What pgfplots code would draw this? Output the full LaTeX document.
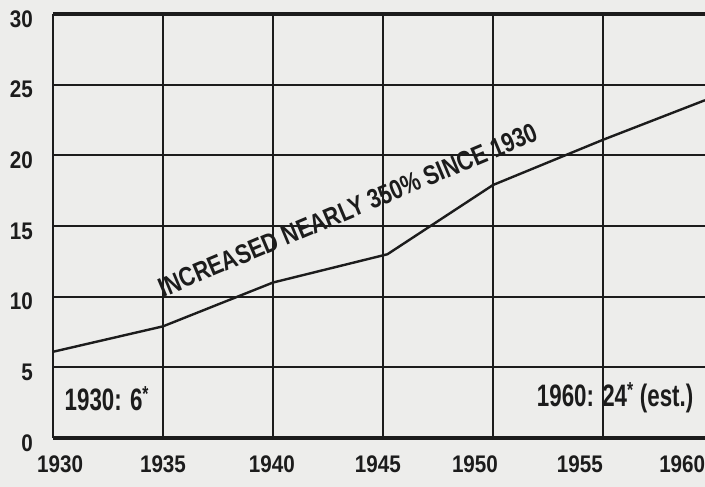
\documentclass[border=0pt]{standalone}
\usepackage{pgfplots}
\pgfplotsset{compat=1.18}
\usepackage{fontspec}
\setmainfont{Liberation Sans}
\newfontfamily\tickfont{Liberation Sans}[FakeStretch=0.86]
\newfontfamily\notefont{Liberation Sans}[FakeStretch=0.72]
\newfontfamily\diagfont{Liberation Sans}[FakeStretch=0.8]
\definecolor{ink}{RGB}{28,28,28}
\definecolor{bg}{RGB}{237,237,235}
\begin{document}
\begin{tikzpicture}
\fill[bg] (-53pt,-49pt) rectangle (652pt,438pt);
\begin{axis}[
  scale only axis, width=652pt, height=424pt,
  xmin=1930, xmax=1959.636, ymin=0, ymax=30,
  clip=false,
  axis line style={draw=none},
  xtick={1930,1935,...,1955}, xticklabels={},
  ytick={0,5,...,30}, yticklabels={0,5,10,15,20,25,30},
  grid=major, major grid style={line width=1.8pt, color=ink},
  tick style={draw=none},
  yticklabel style={font=\tickfont\bfseries\fontsize{24}{26}\selectfont, text=ink, anchor=east, inner sep=0pt, xshift=-20pt, yshift=-5pt},
  extra x ticks={1930.32,1935,1939.95,1944.77,1949.18,1953.95,1958.6},
  extra x tick labels={1930,1935,1940,1945,1950,1955,1960},
  extra x tick style={grid=none, tick style={draw=none}, xticklabel style={font=\tickfont\bfseries\fontsize{24}{26}\selectfont, text=ink, anchor=north, inner sep=0pt, yshift=-18pt}},
]
\draw[line width=4pt, ink] (rel axis cs:0,1) -- (rel axis cs:1,1);
\draw[line width=4pt, ink] (rel axis cs:0,0) -- (rel axis cs:1,0);
\draw[line width=2.2pt, ink] (rel axis cs:0,0) -- (rel axis cs:0,1);
\addplot[ink, line width=2.4pt] coordinates {(1930,6.1) (1935,7.9) (1940,11.0) (1945.2,13.0) (1950,17.9) (1955,21.1) (1959.636,23.9)};
\node[text=ink, font=\notefont\bfseries\fontsize{31}{33}\selectfont] at (axis cs:1932.45,2.76) {1930: 6\textsuperscript{*}};
\node[text=ink, font=\notefont\bfseries\fontsize{31}{33}\selectfont] at (axis cs:1955.55,2.83) {1960: 24\textsuperscript{*} (est.)};
\node[text=ink, rotate=22.8, inner sep=0pt, font=\diagfont\bfseries\fontsize{27}{29}\selectfont] at (axis cs:1943.41,16.14) {INCREASED NEARLY 350\% SINCE 1930};
\end{axis}
\pgfresetboundingbox
\useasboundingbox (-53pt,-49pt) rectangle (652pt,438pt);
\end{tikzpicture}
\end{document}
